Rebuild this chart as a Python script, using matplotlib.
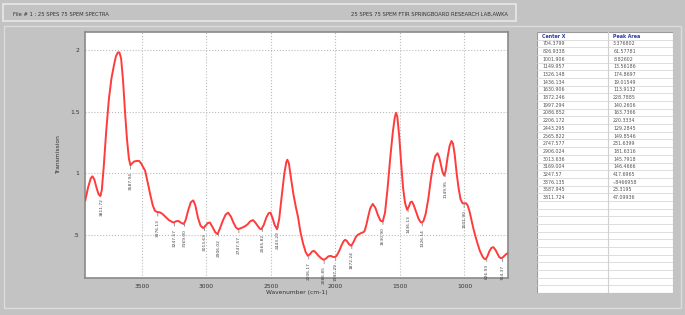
import matplotlib.pyplot as plt
import numpy as np
from matplotlib.patches import Rectangle

# spectrum (wavenumber, transmission)
wavenumber = [3938, 3915, 3895, 3882, 3868, 3850, 3835, 3822, 3810, 3795, 3775, 3755, 3735, 3715,
              3700, 3685, 3673, 3660, 3645, 3630, 3615, 3600, 3588, 3575, 3560, 3540, 3521, 3505,
              3490, 3474, 3455, 3435, 3415, 3398, 3380, 3360, 3340, 3315, 3290, 3265, 3253, 3235,
              3217, 3195, 3175, 3160, 3140, 3120, 3101, 3085, 3065, 3045, 3024, 3005, 2990, 2972,
              2950, 2930, 2913, 2895, 2870, 2850, 2831, 2810, 2790, 2770, 2753, 2735, 2715, 2700,
              2680, 2660, 2638, 2620, 2600, 2585, 2573, 2555, 2535, 2518, 2503, 2488, 2470, 2452,
              2435, 2415, 2395, 2380, 2372, 2360, 2345, 2325, 2305, 2290, 2270, 2250, 2230, 2213,
              2195, 2180, 2166, 2150, 2130, 2110, 2089, 2070, 2055, 2037, 2020, 2006, 1990, 1970,
              1950, 1935, 1924, 1910, 1895, 1877, 1860, 1840, 1826, 1800, 1785, 1774, 1760, 1745,
              1730, 1710, 1690, 1670, 1650, 1633, 1615, 1595, 1575, 1555, 1540, 1530, 1520, 1505,
              1490, 1475, 1460, 1444, 1430, 1418, 1406, 1392, 1375, 1355, 1340, 1332, 1318, 1300,
              1280, 1260, 1240, 1225, 1208, 1195, 1180, 1168, 1156, 1145, 1130, 1115, 1100, 1088,
              1075, 1060, 1045, 1030, 1015, 1000, 988, 975, 960, 945, 930, 915, 899, 880,
              860, 845, 834, 820, 805, 790, 775, 760, 745, 730, 718, 705, 690, 675, 660]
transmission = [0.78, 0.89, 0.96, 0.975, 0.95, 0.88, 0.83, 0.815, 0.86, 1.05, 1.35, 1.60, 1.77, 1.88,
                1.95, 1.98, 1.98, 1.93, 1.75, 1.50, 1.28, 1.12, 1.065, 1.08, 1.095, 1.10, 1.10, 1.08,
                1.05, 1.02, 0.93, 0.83, 0.74, 0.695, 0.685, 0.683, 0.67, 0.645, 0.62, 0.605, 0.60, 0.61,
                0.613, 0.598, 0.588, 0.62, 0.70, 0.765, 0.78, 0.74, 0.64, 0.575, 0.555, 0.575, 0.595, 0.60,
                0.56, 0.52, 0.506, 0.55, 0.62, 0.665, 0.68, 0.65, 0.60, 0.56, 0.546, 0.553, 0.562, 0.57,
                0.585, 0.61, 0.62, 0.60, 0.57, 0.55, 0.546, 0.58, 0.64, 0.675, 0.681, 0.64, 0.58, 0.546,
                0.63, 0.82, 1.00, 1.09, 1.11, 1.08, 0.97, 0.83, 0.72, 0.65, 0.52, 0.43, 0.36, 0.33,
                0.345, 0.365, 0.37, 0.355, 0.33, 0.31, 0.297, 0.31, 0.325, 0.33, 0.322, 0.319, 0.33, 0.37,
                0.42, 0.45, 0.46, 0.45, 0.425, 0.411, 0.44, 0.485, 0.50, 0.515, 0.52, 0.53, 0.58, 0.65,
                0.715, 0.751, 0.72, 0.66, 0.615, 0.608, 0.68, 0.88, 1.12, 1.33, 1.45, 1.49, 1.46, 1.30,
                1.08, 0.88, 0.76, 0.703, 0.73, 0.765, 0.77, 0.74, 0.69, 0.63, 0.605, 0.60, 0.61, 0.67,
                0.79, 0.95, 1.08, 1.14, 1.162, 1.13, 1.06, 1.005, 0.981, 1.02, 1.13, 1.22, 1.262, 1.24,
                1.15, 1.00, 0.88, 0.79, 0.757, 0.755, 0.757, 0.74, 0.69, 0.62, 0.55, 0.49, 0.433, 0.37,
                0.325, 0.305, 0.303, 0.33, 0.37, 0.395, 0.40, 0.38, 0.35, 0.32, 0.311, 0.315, 0.33, 0.345, 0.352]

center_x = [704.3799, 826.9338, 1001.906, 1149.957, 1326.148, 1436.134, 1630.906, 1872.246,
            1997.294, 2086.852, 2206.172, 2443.295, 2565.822, 2747.577, 2906.024, 3013.636,
            3169.004, 3247.57, 3376.135, 3587.945, 3811.724]
peak_area = ["3.376802", "61.57781", "8.82602", "13.56186", "174.8697", "19.01549", "113.9132",
             "228.7885", "140.2606", "163.7366", "220.3334", "129.2845", "149.8546", "231.6399",
             "181.6316", "145.7918", "146.4666", "417.6965", "-.8466958", "23.3195", "47.09936"]

x_ticks = [3500, 3000, 2500, 2000, 1500, 1000]
y_ticks = [0.5, 1, 1.5, 2]
y_tick_labels = [".5", "1", "1.5", "2"]

bg = "#c3c3c3"
fig = plt.figure(figsize=(6.85, 3.15), dpi=100, facecolor=bg)
W, H = 685.0, 315.0

# header strip
fig.patches.append(Rectangle((3 / W, 1 - 21 / H), 513 / W, 17 / H, transform=fig.transFigure,
                             facecolor=bg, edgecolor="#e8e8e8", lw=1.2))
fig.text(13 / W, 1 - 14.5 / H, "File # 1 : 25 SPES 75 SPEM SPECTRA", fontsize=3.8, color="#333333",
         va="center", ha="left")
fig.text(508 / W, 1 - 14.5 / H, "25 SPES 75 SPEM FTIR SPRINGBOARD RESEARCH LAB,AWKA", fontsize=3.8,
         color="#333333", va="center", ha="right")
# main panel frame
fig.patches.append(Rectangle((4 / W, 1 - 308 / H), 677 / W, 282 / H, transform=fig.transFigure,
                             facecolor="none", edgecolor="#dcdcdc", lw=1.0))

ax = fig.add_axes([85 / W, 1 - 278 / H, 423 / W, 246 / H])
ax.set_facecolor("white")
ax.plot(wavenumber, transmission, "-", color="#ff3b3b", lw=1.4, zorder=3)
ax.set_xlim(3940, 662)
ax.set_ylim(0.15, 2.146)
ax.set_xticks(x_ticks)
ax.set_xticklabels([str(t) for t in x_ticks])
ax.set_yticks(y_ticks)
ax.set_yticklabels(y_tick_labels)
ax.tick_params(labelsize=4.3, length=0, pad=4, colors="#333333")
ax.grid(True, linestyle=":", color="#bbbbbb", lw=0.8)
for s in ax.spines.values():
    s.set_color("#8a8a8a")
    s.set_linewidth(1.2)
ax.set_xlabel("Wavenumber (cm-1)", fontsize=4.3, color="#333333", labelpad=1)
ax.set_ylabel("Transmission", fontsize=4.3, color="#333333", labelpad=6)

# peak markers
wx = np.array(wavenumber[::-1])
wy = np.array(transmission[::-1])
for c in center_x:
    yv = np.interp(c, wx, wy)
    lab = f"{int(c * 100) / 100:.2f}"
    ax.annotate(lab, xy=(c, yv - 0.01), xytext=(0, -4), textcoords="offset points", rotation=90,
                ha="center", va="top", fontsize=3.2, color="#444444", zorder=4,
                arrowprops=dict(arrowstyle="-", color="#888888", lw=0.6, shrinkA=0, shrinkB=0))

# peak table
tax = fig.add_axes([537 / W, 1 - 293 / H, 136 / W, 261 / H])
tax.set_xlim(0, 1)
tax.set_ylim(34, 0)
tax.axis("off")
tax.add_patch(Rectangle((0, 0), 1, 34, facecolor="white", edgecolor="#9a9a9a", lw=0.8))
for r in range(1, 34):
    tax.plot([0, 1], [r, r], color="#d8d8d8", lw=0.6)
tax.plot([0.52, 0.52], [0, 34], color="#d0d0d0", lw=0.8)
tax.text(0.04, 0.55, "Center X", fontsize=3.4, color="#2a3aa8", va="center", fontweight="bold")
tax.text(0.56, 0.55, "Peak Area", fontsize=3.4, color="#2a3aa8", va="center", fontweight="bold")
for i, (c, a) in enumerate(zip(center_x, peak_area)):
    tax.text(0.04, i + 1.55, str(c), fontsize=3.4, color="#555555", va="center")
    tax.text(0.56, i + 1.55, a, fontsize=3.4, color="#555555", va="center")

fig.savefig("out.png", dpi=100, facecolor=bg)
